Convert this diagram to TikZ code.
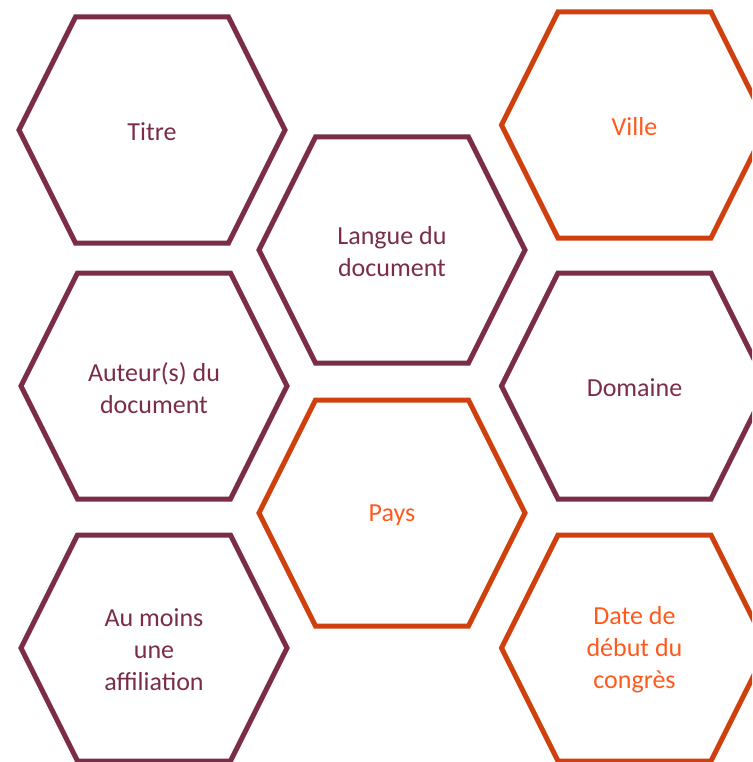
\documentclass[tikz,border=0pt]{standalone}
\usepackage{fontspec}
\setmainfont{Carlito}
\usepackage{tikz}

\definecolor{prune}{HTML}{7B2C48}
\definecolor{brique}{HTML}{D0400E}
\definecolor{orangetxt}{HTML}{FF5A1E}

\begin{document}
\begin{tikzpicture}[x=1pt,y=-1pt,line width=5pt,line join=miter,
                    font=\fontsize{26}{32}\selectfont]
	\tikzstyle{label}=[align=center,inner sep=0pt,yshift=-2pt]
	\tikzstyle{prune label}=[label,text=prune]
	\tikzstyle{orange label}=[label,text=orangetxt]

	\clip (0,0) rectangle (752,762);

	\node[prune label]  (titre)   at (152,130)   {Titre};
	\node[prune label]  (auteur)  at (154,386)   {Auteur(s) du\\document};
	\node[prune label]  (affil)   at (154,648)   {Au moins\\une\\affiliation};

	\node[prune label]  (langue)  at (392,250)   {Langue du\\document};
	\node[orange label] (pays)    at (392,513)   {Pays};

	\node[orange label] (ville)   at (634.5,125) {Ville};
	\node[prune label]  (domaine) at (634.5,386) {Domaine};
	\node[orange label] (date)    at (634.5,648) {Date de\\d\'ebut du\\congr\`es};

	% hexagon outlines around each label
	\foreach \n/\c in {titre/prune, auteur/prune, affil/prune, langue/prune,
	                   pays/brique, ville/brique, domaine/prune, date/brique}
		\draw[\c] ([shift={(-133,-2)}]\n.center)
		       -- ([shift={(-76.5,-115)}]\n.center)
		       -- ([shift={(76.5,-115)}]\n.center)
		       -- ([shift={(133,-2)}]\n.center)
		       -- ([shift={(76.5,111)}]\n.center)
		       -- ([shift={(-76.5,111)}]\n.center)
		       -- cycle;
\end{tikzpicture}
\end{document}
